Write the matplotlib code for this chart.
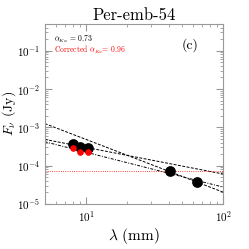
import matplotlib
matplotlib.use("Agg")
import matplotlib.pyplot as plt
import numpy as np

plt.rcParams["font.family"] = "serif"
plt.rcParams["font.serif"] = ["cmr10", "DejaVu Serif"]
plt.rcParams["mathtext.fontset"] = "cm"
plt.rcParams["axes.formatter.use_mathtext"] = True

# VLA fluxes (mm, Jy)
wave = [8.07, 9.1, 10.3, 40.9, 64.8]
flux = [3.66e-4, 3.1e-4, 2.87e-4, 7.4e-5, 3.8e-5]
wave_ka = [8.07, 9.1, 10.3]
flux_corr = [2.87e-4, 2.33e-4, 2.25e-4]

# fitted lines, read at the two edges of the x range
line_x = [5, 100]
fit_c = [1.25e-3, 2.03e-5]     # through C band points
fit_ka = [4.83e-4, 6.05e-5]    # alpha_Ka = 0.73
fit_corr = [4.2e-4, 2.75e-5]   # corrected alpha_Ka = 0.96
noise_level = 7.2e-5

fig = plt.figure(figsize=(2.49, 2.49), dpi=100)
ax = fig.add_axes([0.18, 0.181, 0.716, 0.723])

ax.plot(line_x, fit_c, color="black", ls=(0, (3, 1.5)), lw=0.7)
ax.plot(line_x, fit_ka, color="black", ls=(0, (3, 1.5)), lw=0.7)
ax.plot(line_x, fit_corr, color="black", ls=(0, (3, 1.5, 1, 1.5)), lw=0.7)
ax.axhline(noise_level, color="red", ls=":", lw=0.6)

ax.scatter(wave, flux, s=45, color="black", zorder=3)
ax.scatter(wave_ka, flux_corr, s=14, color="red", zorder=4)

ax.set_xscale("log")
ax.set_yscale("log")
ax.set_xlim(5, 100)
ax.set_ylim(1e-5, 0.5)

for sp in ax.spines.values():
    sp.set_color("#999999")
    sp.set_linewidth(0.8)
ax.tick_params(which="both", direction="in", top=True, right=True,
               color="#999999", labelsize=8)
ax.tick_params(which="major", length=5)
ax.tick_params(which="minor", length=2.5)

ax.set_xlabel(r"$\lambda$ (mm)", fontsize=11, labelpad=2)
ax.set_ylabel(r"$F_\nu$ (Jy)", fontsize=10)
ax.yaxis.set_label_coords(-0.15, 0.5)
ax.set_title("Per-emb-54", fontsize=12, pad=3)

ax.text(0.05, 0.9, r"$\alpha_{Ka}$ = 0.73", transform=ax.transAxes,
        fontsize=5.5, color="black", va="baseline")
ax.text(0.05, 0.838, r"Corrected $\alpha_{Ka}$= 0.96", transform=ax.transAxes,
        fontsize=5.5, color="red", va="baseline")
ax.text(0.77, 0.86, "(c)", transform=ax.transAxes, fontsize=10)

fig.savefig("out.png", dpi=100)
